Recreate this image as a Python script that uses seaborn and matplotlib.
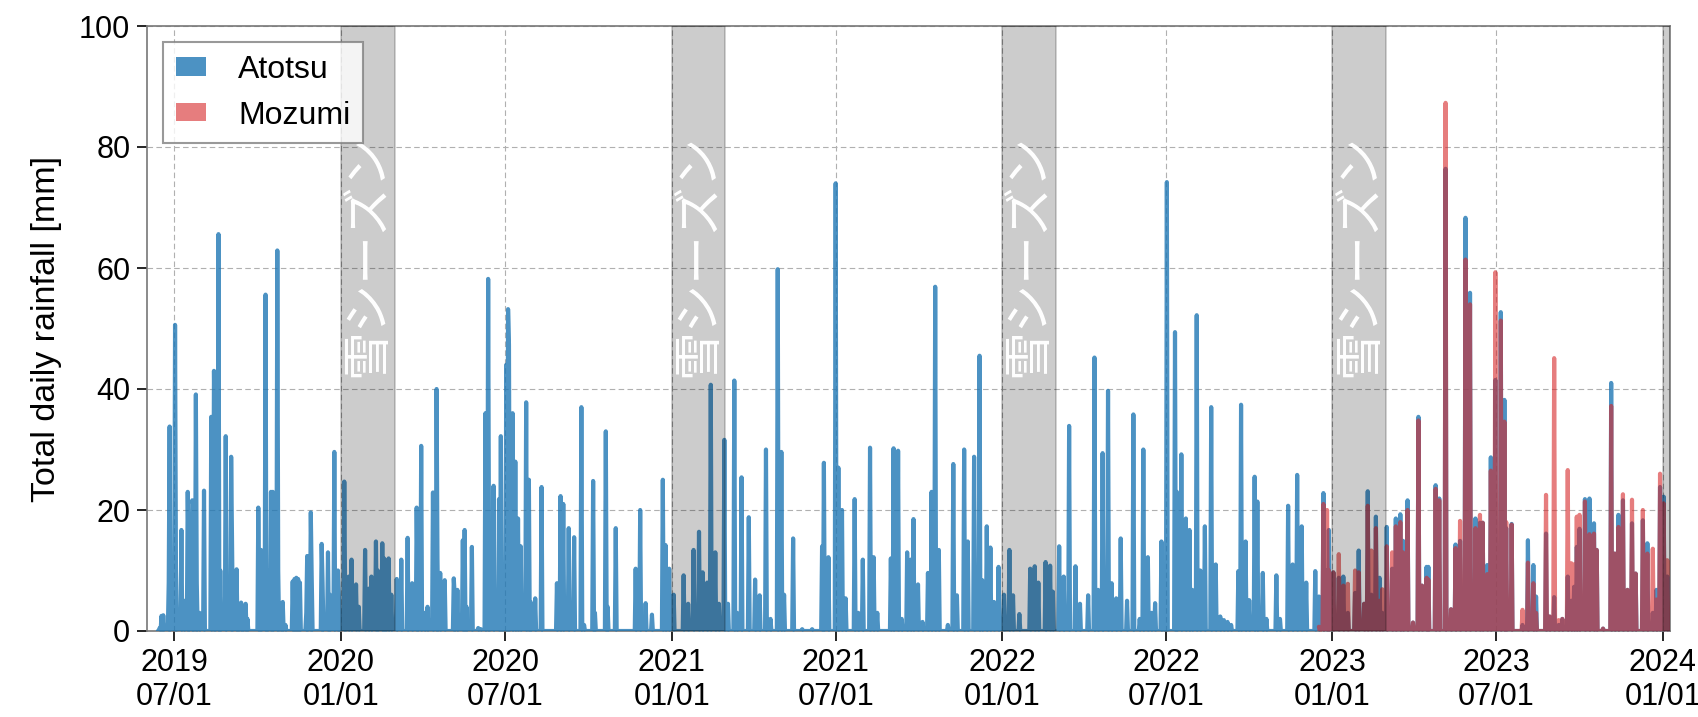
import pandas as pd
import matplotlib
matplotlib.use("Agg")
import matplotlib.pyplot as plt
from matplotlib.patches import Patch
import seaborn as sns

# daily rainfall [mm], days not listed are dry (0 mm)
atotsu_dates = [
    "2019-06-13", "2019-06-15", "2019-06-17", "2019-06-19", "2019-06-25", "2019-06-26", "2019-07-02", "2019-07-03",
    "2019-07-09", "2019-07-12", "2019-07-16", "2019-07-17", "2019-07-21", "2019-07-22", "2019-07-25", "2019-07-26",
    "2019-07-29", "2019-08-03", "2019-08-11", "2019-08-14", "2019-08-15", "2019-08-19", "2019-08-21", "2019-08-27",
    "2019-09-02", "2019-09-03", "2019-09-08", "2019-09-10", "2019-09-13", "2019-09-15", "2019-09-18", "2019-09-20",
    "2019-10-02", "2019-10-03", "2019-10-05", "2019-10-10", "2019-10-12", "2019-10-16", "2019-10-18", "2019-10-23",
    "2019-10-24", "2019-10-27", "2019-10-29", "2019-11-01", "2019-11-09", "2019-11-11", "2019-11-13", "2019-11-15",
    "2019-11-17", "2019-11-24", "2019-11-25", "2019-11-29", "2019-11-30", "2019-12-11", "2019-12-12", "2019-12-18",
    "2019-12-20", "2019-12-25", "2019-12-29", "2019-12-30", "2020-01-05", "2020-01-06", "2020-01-10", "2020-01-13",
    "2020-01-18", "2020-01-21", "2020-01-28", "2020-02-01", "2020-02-04", "2020-02-09", "2020-02-11", "2020-02-16",
    "2020-02-18", "2020-02-20", "2020-02-23", "2020-02-26", "2020-03-03", "2020-03-08", "2020-03-15", "2020-03-20",
    "2020-03-25", "2020-03-26", "2020-03-30", "2020-04-03", "2020-04-06", "2020-04-12", "2020-04-16", "2020-04-17",
    "2020-04-20", "2020-04-25", "2020-05-05", "2020-05-06", "2020-05-09", "2020-05-15", "2020-05-17", "2020-05-19",
    "2020-05-25", "2020-06-01", "2020-06-04", "2020-06-09", "2020-06-12", "2020-06-13", "2020-06-18", "2020-06-24",
    "2020-06-26", "2020-06-28", "2020-07-02", "2020-07-04", "2020-07-05", "2020-07-09", "2020-07-12", "2020-07-15",
    "2020-07-18", "2020-07-24", "2020-07-27", "2020-07-29", "2020-08-03", "2020-08-10", "2020-08-27", "2020-08-31",
    "2020-09-03", "2020-09-09", "2020-09-15", "2020-09-23", "2020-09-26", "2020-10-06", "2020-10-08", "2020-10-20",
    "2020-10-22", "2020-10-31", "2020-11-22", "2020-11-27", "2020-12-03", "2020-12-10", "2020-12-22", "2020-12-25",
    "2020-12-29", "2021-01-03", "2021-01-14", "2021-01-19", "2021-01-25", "2021-01-31", "2021-02-04", "2021-02-09",
    "2021-02-13", "2021-02-18", "2021-02-22", "2021-02-28", "2021-03-04", "2021-03-11", "2021-03-14", "2021-03-19",
    "2021-03-27", "2021-04-03", "2021-04-08", "2021-04-15", "2021-04-20", "2021-04-28", "2021-05-02", "2021-05-05",
    "2021-05-15", "2021-05-25", "2021-06-05", "2021-06-16", "2021-06-18", "2021-06-23", "2021-07-01", "2021-07-04",
    "2021-07-08", "2021-07-12", "2021-07-22", "2021-07-26", "2021-07-31", "2021-08-08", "2021-08-12", "2021-08-16",
    "2021-08-31", "2021-09-03", "2021-09-08", "2021-09-12", "2021-09-18", "2021-09-22", "2021-09-25", "2021-09-30",
    "2021-10-05", "2021-10-11", "2021-10-15", "2021-10-19", "2021-10-23", "2021-11-02", "2021-11-08", "2021-11-12",
    "2021-11-20", "2021-11-24", "2021-12-01", "2021-12-07", "2021-12-10", "2021-12-15", "2021-12-19", "2021-12-23",
    "2021-12-28", "2022-01-03", "2022-01-09", "2022-01-13", "2022-01-20", "2022-02-01", "2022-02-06", "2022-02-10",
    "2022-02-18", "2022-02-23", "2022-02-26", "2022-03-05", "2022-03-10", "2022-03-16", "2022-03-23", "2022-03-28",
    "2022-04-06", "2022-04-13", "2022-04-17", "2022-04-22", "2022-04-28", "2022-05-02", "2022-05-07", "2022-05-12",
    "2022-05-19", "2022-05-26", "2022-06-02", "2022-06-06", "2022-06-11", "2022-06-15", "2022-06-19", "2022-06-26",
    "2022-06-29", "2022-07-02", "2022-07-11", "2022-07-13", "2022-07-18", "2022-07-23", "2022-07-27", "2022-07-30",
    "2022-08-04", "2022-08-08", "2022-08-13", "2022-08-20", "2022-08-25", "2022-08-30", "2022-09-03", "2022-09-07",
    "2022-09-11", "2022-09-19", "2022-09-22", "2022-09-27", "2022-10-01", "2022-10-07", "2022-10-10", "2022-10-16",
    "2022-10-20", "2022-10-31", "2022-11-04", "2022-11-13", "2022-11-18", "2022-11-23", "2022-11-28", "2022-12-03",
    "2022-12-13", "2022-12-17", "2022-12-22", "2022-12-26", "2022-12-28", "2023-01-02", "2023-01-08", "2023-01-13",
    "2023-01-18", "2023-01-26", "2023-01-30", "2023-02-05", "2023-02-09", "2023-02-13", "2023-02-18", "2023-02-22",
    "2023-02-25", "2023-03-02", "2023-03-08", "2023-03-12", "2023-03-17", "2023-03-20", "2023-03-25", "2023-03-31",
    "2023-04-06", "2023-04-10", "2023-04-15", "2023-04-17", "2023-04-25", "2023-04-29", "2023-05-06", "2023-05-12",
    "2023-05-17", "2023-05-22", "2023-05-28", "2023-06-02", "2023-06-08", "2023-06-13", "2023-06-16", "2023-06-21",
    "2023-06-25", "2023-06-30", "2023-07-06", "2023-07-10", "2023-07-12", "2023-07-18", "2023-07-30", "2023-08-05",
    "2023-08-11", "2023-08-14", "2023-08-25", "2023-08-29", "2023-09-03", "2023-09-08", "2023-09-12", "2023-09-18",
    "2023-09-22", "2023-09-25", "2023-09-28", "2023-10-01", "2023-10-07", "2023-10-12", "2023-10-17", "2023-10-20",
    "2023-10-27", "2023-11-05", "2023-11-09", "2023-11-13", "2023-11-18", "2023-11-23", "2023-11-28", "2023-12-02",
    "2023-12-10", "2023-12-15", "2023-12-21", "2023-12-25", "2023-12-29", "2024-01-02", "2024-01-06", "2024-01-07",
]
atotsu_mm = [
    0, 0.5, 2.5, 2.6, 8, 33.8, 50.6, 10,
    16.7, 5, 23, 12, 21.6, 21, 39.1, 8,
    3, 23.2, 35.4, 43, 30, 65.6, 10, 32.2,
    28.8, 15, 10.2, 3, 4.7, 4, 4.5, 2,
    20.4, 5, 13.4, 55.6, 10, 23, 23, 62.9,
    10, 4.6, 4.8, 1, 8.2, 8.6, 8.8, 8.6,
    8, 3, 12.4, 19.6, 9, 14.4, 8, 13,
    6, 29.6, 10, 6, 24.7, 5, 9, 11.8,
    7.7, 4, 13.4, 7, 9, 14.8, 10, 14.5,
    12, 8, 12, 6, 8.6, 11.8, 15.4, 7.9,
    20.4, 8, 30.6, 3, 4, 22.9, 40, 12,
    9.6, 8.4, 8.7, 6, 6.8, 15, 16.7, 4,
    13.9, 0.5, 0.3, 36, 58.2, 10, 24, 21.8,
    32.2, 8.4, 44, 53.2, 47.3, 36, 28, 18.6,
    14, 37.8, 25, 4.8, 5.4, 23.8, 7.9, 22.3,
    21, 17, 15.5, 37, 1, 24.8, 3, 33,
    4, 17, 10.3, 20, 4.6, 2.7, 25, 14.2,
    10.3, 6, 9.2, 4.5, 13.4, 16.4, 9.7, 8,
    40.7, 13, 4.5, 31.6, 4.5, 41.4, 3, 25.4,
    18.8, 8.5, 5.9, 30, 2, 59.8, 29.6, 6,
    15.3, 0.3, 0.3, 14, 27.8, 12.2, 74, 27,
    20, 5.4, 21.8, 3, 11.8, 30.3, 12.2, 3,
    12, 30.2, 29.8, 2, 13, 11.8, 18.5, 7.7,
    1.5, 9.6, 23, 56.9, 13.4, 1, 27.6, 5.9,
    30, 14.8, 28.8, 45.5, 8.4, 17.3, 13.8, 4.8,
    10.6, 6, 13.4, 5.9, 2.8, 10.3, 10.7, 8,
    11.4, 10.8, 6.5, 14, 9, 33.9, 10.7, 4.5,
    5.9, 45.2, 6.8, 29.4, 39.7, 7.9, 5.4, 15.3,
    5, 35.8, 2, 30, 12.2, 3, 4.6, 14.8,
    3, 74.2, 49.4, 23, 29.2, 18.6, 16.7, 6.8,
    52.2, 10, 17.3, 37, 11, 2.4, 1.8, 1.5,
    1, 9.9, 37.4, 14.8, 5.1, 25.5, 21.4, 9.6,
    2, 9.2, 2, 20.7, 11, 25.8, 17.3, 8,
    9.9, 5.7, 22.8, 10, 16.7, 9.7, 8.8, 9,
    3, 6.3, 13.3, 4.5, 23.1, 6, 18.9, 8.8,
    3, 17.2, 10.3, 18.6, 19.3, 14.9, 21.6, 1.4,
    35.4, 7.5, 10.6, 10.6, 24.1, 21.9, 76.4, 3.6,
    14.3, 14.9, 68.3, 55.9, 18.6, 17.9, 17.9, 10.9,
    28.7, 41.5, 52.7, 38.2, 17, 17.7, 1, 15,
    10.9, 5.7, 16.1, 2.4, 5.6, 1, 2, 9,
    5, 7.3, 13.9, 16.9, 21.8, 21.9, 17.8, 13.4,
    0.4, 41, 12.8, 19.2, 21.6, 6.8, 17.8, 9.5,
    18.3, 14.5, 3, 6.8, 23.8, 22.2, 9, 0,
]

mozumi_dates = [
    "2022-12-17", "2022-12-19", "2022-12-22", "2022-12-26", "2022-12-28", "2023-01-02", "2023-01-08", "2023-01-13",
    "2023-01-18", "2023-01-26", "2023-01-30", "2023-02-05", "2023-02-09", "2023-02-13", "2023-02-18", "2023-02-22",
    "2023-02-25", "2023-03-02", "2023-03-08", "2023-03-12", "2023-03-17", "2023-03-20", "2023-03-25", "2023-03-31",
    "2023-04-06", "2023-04-10", "2023-04-15", "2023-04-17", "2023-04-25", "2023-04-29", "2023-05-06", "2023-05-12",
    "2023-05-17", "2023-05-22", "2023-05-28", "2023-06-02", "2023-06-08", "2023-06-13", "2023-06-16", "2023-06-21",
    "2023-06-25", "2023-06-30", "2023-07-06", "2023-07-10", "2023-07-12", "2023-07-18", "2023-07-30", "2023-08-05",
    "2023-08-11", "2023-08-14", "2023-08-25", "2023-08-29", "2023-09-03", "2023-09-08", "2023-09-12", "2023-09-18",
    "2023-09-22", "2023-09-25", "2023-09-28", "2023-10-01", "2023-10-07", "2023-10-12", "2023-10-17", "2023-10-20",
    "2023-10-27", "2023-11-05", "2023-11-09", "2023-11-13", "2023-11-18", "2023-11-23", "2023-11-28", "2023-12-02",
    "2023-12-10", "2023-12-15", "2023-12-21", "2023-12-25", "2023-12-29", "2024-01-02", "2024-01-06", "2024-01-07",
]
mozumi_mm = [
    0.7, 0.5, 21, 20, 10, 9.7, 12.7, 7.5,
    7.8, 10, 9.7, 4.5, 20.7, 13.3, 17, 5,
    6.9, 14, 13, 17.3, 18, 13, 20, 1.4,
    34.8, 7.5, 8.8, 8.5, 23.5, 21.6, 87.3, 3.6,
    13.7, 18.2, 61.4, 54, 17, 19.2, 17.9, 9.4,
    26.5, 59.3, 51.3, 34.6, 18, 17.6, 3.5, 11.3,
    7.9, 3, 22.5, 2.4, 45.1, 1.8, 2, 26.6,
    11.2, 11, 18.9, 19.2, 21.4, 16, 16.1, 13.4,
    0.4, 37.2, 12.8, 17.2, 22.6, 6.8, 21.7, 9.5,
    20, 12.8, 13.6, 5.2, 26, 21.1, 11.7, 0,
]

snow_starts = ["2020-01-01", "2021-01-01", "2022-01-01", "2023-01-01", "2024-01-01"]
snow_ends = ["2020-03-01", "2021-03-01", "2022-03-01", "2023-03-01", "2024-03-01"]
snow_label = "雪シーズン"
xtick_dates = pd.date_range("2019-07-01", "2024-01-01", freq="6MS")

blue = sns.color_palette("tab10")[0]
red = sns.color_palette("tab10")[3]


def daily(dates, values):
    s = pd.Series(values, index=pd.to_datetime(dates), dtype=float)
    days = pd.date_range(s.index.min(), s.index.max(), freq="D")
    return s.reindex(days, fill_value=0.0)


def fade(alpha):
    # make a whole layer translucent at once (line + fill without double alpha)
    def _f(img, dpi):
        out = img.copy()
        out[..., 3] *= alpha
        return out, 0, 0
    return _f


atotsu = daily(atotsu_dates, atotsu_mm)
mozumi = daily(mozumi_dates, mozumi_mm)

sns.set_theme(style="ticks")
plt.rcParams["font.family"] = ["Liberation Sans", "DejaVu Sans"]
for key in ["text.color", "axes.labelcolor", "xtick.color", "ytick.color"]:
    plt.rcParams[key] = "black"

fig = plt.figure(figsize=(16.99, 7.17), dpi=100)
ax = fig.add_axes([147 / 1699, 1 - 631 / 717, (1670 - 147) / 1699, (631 - 26) / 717])
ax.grid(True, linestyle=(0, (5, 3)), color="#b0b0b0", linewidth=0.8)

for z, (s, col, a) in enumerate([(atotsu, blue, 0.8), (mozumi, red, 0.6)], start=1):
    lay = fig.add_axes(ax.get_position(), sharex=ax, sharey=ax)
    lay.axis("off")
    lay.set_zorder(z)
    sns.lineplot(x=s.index, y=s.values, ax=lay, color=col, linewidth=3)
    lay.fill_between(s.index, s.values, color=col, linewidth=0)
    lay.set_agg_filter(fade(a))

top = fig.add_axes(ax.get_position(), sharex=ax, sharey=ax)
top.axis("off")
top.set_zorder(5)
for i, (a0, a1) in enumerate(zip(snow_starts, snow_ends)):
    t0, t1 = pd.Timestamp(a0), pd.Timestamp(a1)
    top.axvspan(t0, t1, color="black", alpha=0.2, linewidth=1.2)
    if i < 4:
        top.text(t0 + (t1 - t0) / 2, 62, snow_label, rotation=90, ha="center", va="center",
                 color="white", fontsize=35, family=["Noto Sans CJK JP", "DejaVu Sans"])

handles = [Patch(facecolor=blue, alpha=0.8, edgecolor="none"),
           Patch(facecolor=red, alpha=0.6, edgecolor="none")]
leg = top.legend(handles, ["Atotsu", "Mozumi"], loc="upper left", fontsize=23, frameon=True,
                 fancybox=False, edgecolor="#808080", framealpha=0.8, handlelength=0.95,
                 handleheight=0.5, handletextpad=1.0)
leg.get_frame().set_linewidth(1.5)

ax.set_xlim(pd.Timestamp("2019-06-01"), pd.Timestamp("2024-01-09"))
ax.set_ylim(0, 100)
ax.set_yticks([0, 20, 40, 60, 80, 100])
ax.set_xticks(xtick_dates)
ax.set_xticklabels([d.strftime("%Y\n%m/%d") for d in xtick_dates])
ax.tick_params(labelsize=22, direction="out", length=7, width=1.2, color="black", pad=5)
ax.set_ylabel("Total daily rainfall [mm]", fontsize=24.5, labelpad=12)
for sp in ax.spines.values():
    sp.set_color("#777777")
    sp.set_linewidth(1.2)

fig.savefig("out.png", dpi=100, facecolor="white")
plt.close(fig)
